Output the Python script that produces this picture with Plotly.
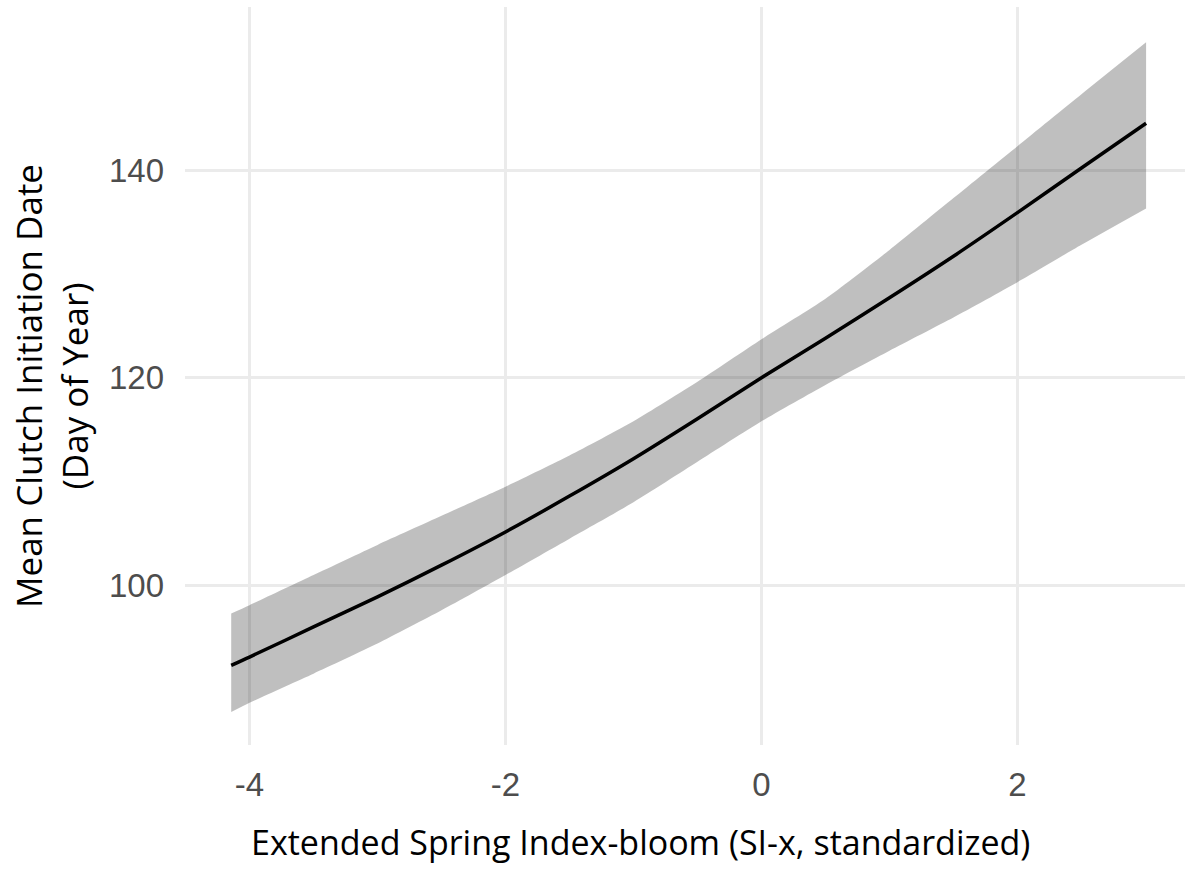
import plotly.graph_objects as go

# Data
si_x = [-4.143, -4.0, -3.5, -3.0, -2.5, -2.0, -1.5, -1.0, -0.5, 0.0, 0.5, 1.0, 1.5, 2.0, 2.5, 3.005]
fit = [92.3, 93.1, 96.0, 98.9, 101.95, 105.15, 108.6, 112.2, 116.05, 120.0, 123.8, 127.7, 131.7, 135.9, 140.2, 144.5]
upper = [97.3, 98.1, 101.0, 103.9, 106.7, 109.5, 112.5, 115.8, 119.6, 123.7, 127.6, 132.3, 137.3, 142.3, 147.3, 152.3]
lower = [87.8, 88.7, 91.5, 94.4, 97.6, 101.0, 104.5, 108.0, 111.9, 115.8, 119.3, 122.6, 125.8, 129.2, 132.8, 136.3]

x_ticks = [-4, -2, 0, 2]
y_ticks = [100, 120, 140]
x_title = "Extended Spring Index-bloom (SI-x, standardized)"
y_title = "Mean Clutch Initiation Date<br>(Day of Year)"

fig = go.Figure()
fig.add_trace(go.Scatter(x=si_x, y=lower, mode="lines",
                         line=dict(width=0, color="rgba(0,0,0,0)", shape="spline", smoothing=0.6),
                         showlegend=False, hoverinfo="skip"))
fig.add_trace(go.Scatter(x=si_x, y=upper, mode="lines",
                         line=dict(width=0, color="rgba(0,0,0,0)", shape="spline", smoothing=0.6),
                         fill="tonexty", fillcolor="rgba(0,0,0,0.25)", showlegend=False, hoverinfo="skip"))
fig.add_trace(go.Scatter(x=si_x, y=fit, mode="lines",
                         line=dict(width=3.5, color="black", shape="spline", smoothing=0.8),
                         showlegend=False))

W, H = 1185, 869
L, R, T, B = 185, 0, 7, 124

fig.update_layout(
    width=W, height=H,
    margin=dict(l=L, r=R, t=T, b=B, pad=0),
    paper_bgcolor="white", plot_bgcolor="white",
    xaxis=dict(range=[-4.504, 3.309], tickvals=x_ticks, ticktext=[str(v) for v in x_ticks],
               showgrid=True, gridcolor="#ebebeb", gridwidth=3, zeroline=False, showline=False,
               ticks="", ticklabelstandoff=17,
               tickfont=dict(family="Liberation Sans, Arial", size=33, color="#4d4d4d")),
    yaxis=dict(range=[84.63, 155.70], tickvals=y_ticks, ticktext=[str(v) for v in y_ticks],
               showgrid=True, gridcolor="#ebebeb", gridwidth=3, zeroline=False, showline=False,
               ticks="", ticklabelstandoff=20,
               tickfont=dict(family="Liberation Sans, Arial", size=33, color="#4d4d4d")),
    annotations=[
        dict(text=x_title, xref="paper", yref="paper", x=(640 - L) / 1000, y=(745 - 842) / 738,
             xanchor="center", yanchor="middle", showarrow=False,
             font=dict(family="Open Sans", size=34, color="black")),
        dict(text=y_title, xref="paper", yref="paper", x=(51 - L) / 1000, y=(745 - 386) / 738,
             xanchor="center", yanchor="middle", showarrow=False, textangle=-90,
             font=dict(family="Open Sans", size=35, color="black")),
    ],
)

fig.write_html("out.html")
